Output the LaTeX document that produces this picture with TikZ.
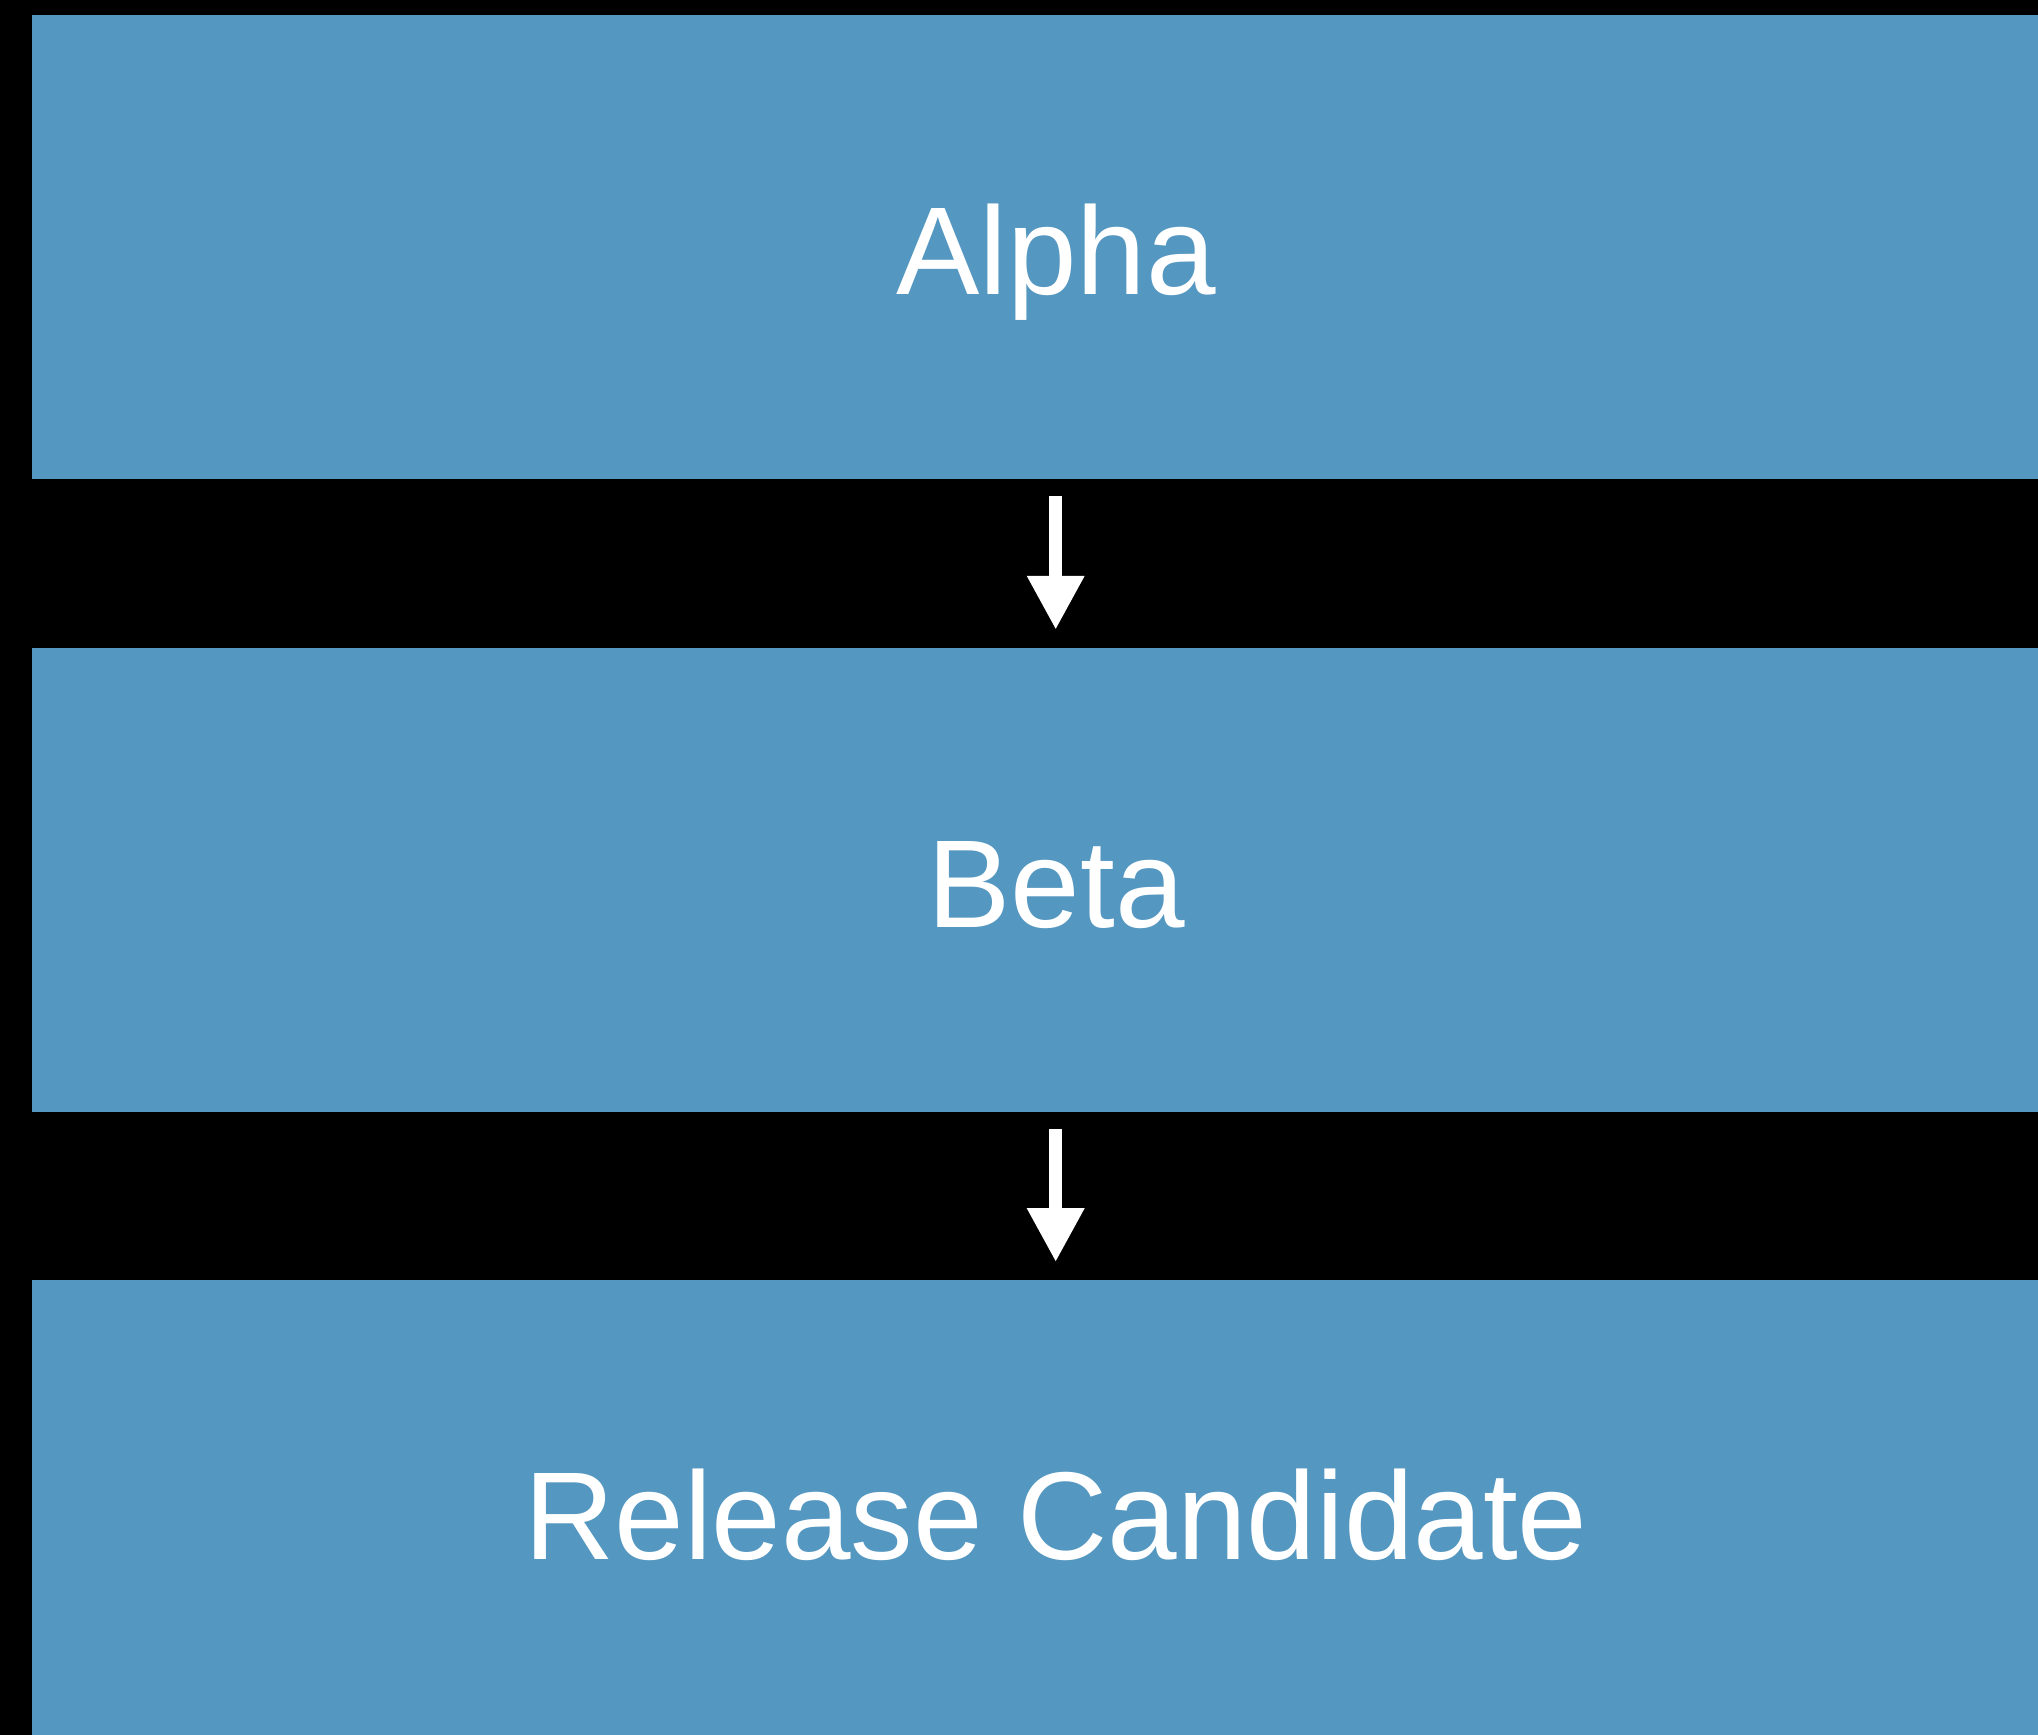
\documentclass[tikz,border=0pt]{standalone}
\usepackage{fontspec}
\setmainfont{Liberation Sans}
\usetikzlibrary{arrows.meta}
\definecolor{boxblue}{RGB}{84,151,193}
\begin{document}
\begin{tikzpicture}[x=1pt,y=-1pt,
  stagebox/.style={fill=boxblue, draw=none, minimum width=2048pt, minimum height=464pt,
    inner sep=0pt, text=white, font=\fontsize{125}{150}\selectfont,
    text height=95pt, text depth=0pt, anchor=center},
  flowarrow/.style={draw=white, line width=13pt,
    -{Triangle[length=54pt,width=54pt]}, shorten <=17pt, shorten >=17.7pt}]
  \useasboundingbox (0,0) rectangle (2038,1735);
  \fill[black] (0,0) rectangle (2038,1735);
  \clip (0,0) rectangle (2038,1735);
  \node[stagebox] (alpha) at (1056,247) {Alpha};
  \node[stagebox] (beta) at (1056,879.7) {Beta};
  \node[stagebox] (rc) at (1056,1512) {Release Candidate};
  \draw[flowarrow] (alpha.south -| 1055.7,0) -- (beta.north -| 1055.7,0);
  \draw[flowarrow] (beta.south -| 1055.7,0) -- (rc.north -| 1055.7,0);
\end{tikzpicture}
\end{document}
